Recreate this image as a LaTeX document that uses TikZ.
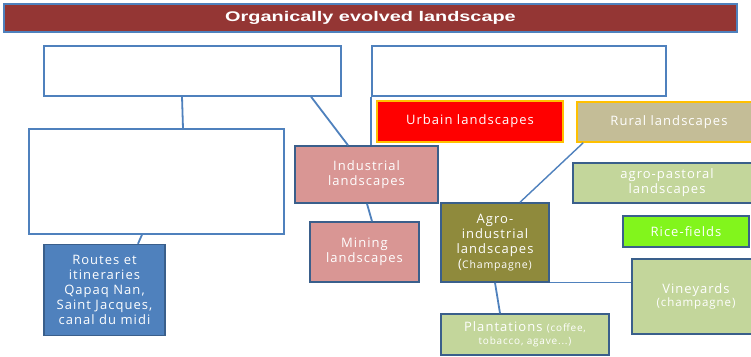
\documentclass[tikz,border=0pt]{standalone}
\usepackage{graphicx}
\usepackage{fontspec}
\setmainfont{Liberation Sans}
\newfontfamily\boxfont[LetterSpace=8]{Open Sans}
\usetikzlibrary{calc}
\definecolor{titlered}{HTML}{943634}
\definecolor{lineblue}{HTML}{4F81BD}
\definecolor{darkblue}{HTML}{3A5F8B}
\definecolor{rosefill}{HTML}{D99694}
\definecolor{greenfill}{HTML}{C3D69B}
\definecolor{tanfill}{HTML}{C4BD97}
\definecolor{olivefill}{HTML}{8F8A3C}
\definecolor{limefill}{HTML}{82F51C}
\definecolor{goldline}{HTML}{FFC000}
\tikzset{
  emptybox/.style={draw=lineblue, line width=1.3pt, fill=white, inner sep=0pt},
  colbox/.style={draw=darkblue, line width=1.5pt, inner sep=0pt, text=white, align=center,
    font=\boxfont\fontsize{13}{15}\selectfont},
  goldbox/.style={colbox, draw=goldline},
  conn/.style={draw=lineblue, line width=1.8pt}
}
\begin{document}
\begin{tikzpicture}[x=1pt,y=-1pt]
\clip (0,0) rectangle (751,356);
\fill[white] (0,0) rectangle (751,356);
% title
\node[draw=lineblue, line width=1.2pt, fill=titlered, minimum width=733pt, minimum height=28pt, inner sep=0pt,
  text=white, font=\bfseries\fontsize{14}{16}\selectfont] (title) at (370.5,18)
  {\scalebox{1.42}[1]{Organically evolved landscape}};
% empty boxes
\node[emptybox, minimum width=297pt, minimum height=50pt] (ul) at (192.5,71) {};
\node[emptybox, minimum width=294pt, minimum height=50pt] (ur) at (519,71) {};
\node[emptybox, minimum width=255pt, minimum height=105pt] (b2) at (156.5,181.5) {};
% coloured boxes
\node[colbox, fill=lineblue, minimum width=121pt, minimum height=91pt] (routes) at (104.5,290)
  {Routes et\\itineraries\\Qapaq Nan,\\Saint Jacques,\\canal du midi};
\node[colbox, fill=rosefill, minimum width=143pt, minimum height=57pt] (ind) at (366.5,174.5)
  {Industrial\\landscapes};
\node[colbox, fill=rosefill, minimum width=109pt, minimum height=60pt] (mine) at (364.5,252)
  {Mining\\landscapes};
\node[goldbox, fill=red, minimum width=186pt, minimum height=41pt] (urb) at (470,121.5)
  {Urbain landscapes};
\node[goldbox, fill=tanfill, minimum width=184pt, minimum height=40pt] (rur) at (669,122)
  {Rural landscapes};
\node[colbox, fill=greenfill, minimum width=188pt, minimum height=40pt] (past) at (667,183)
  {agro-pastoral\\landscapes};
\node[colbox, fill=limefill, minimum width=126pt, minimum height=31pt] (rice) at (686,231.5)
  {Rice-fields};
\node[colbox, fill=olivefill, minimum width=108pt, minimum height=79pt] (agro) at (495,242.5)
  {Agro-\\industrial\\landscapes\\(\fontsize{10.5}{15.5}\selectfont Champagne)};
\node[colbox, fill=greenfill, minimum width=128pt, minimum height=75pt,
  font=\boxfont\fontsize{13}{13.5}\selectfont] (vine) at (696,296.5)
  {Vineyards\\{\fontsize{11.5}{13.5}\selectfont(champagne)}};
\node[colbox, fill=greenfill, minimum width=168pt, minimum height=41pt,
  font=\boxfont\fontsize{13}{13.5}\selectfont] (plant) at (525,334.5)
  {Plantations {\fontsize{10}{13.5}\selectfont(coffee,}\\{\fontsize{10}{13.5}\selectfont tobacco, agave...)}};
% connectors
\draw[conn] ([xshift=-10.5pt]ul.south) -- ([xshift=26.5pt]b2.north);
\draw[conn] ([xshift=118.5pt]ul.south) -- ([xshift=-18.5pt]ind.north);
\draw[conn] ([xshift=-14.5pt]b2.south) -- ([xshift=33.5pt]routes.north);
\draw[conn] (ur.south west) -- (ur.south west |- ind.north);
\draw[conn] ([xshift=0.5pt]ind.south) -- ([xshift=7.5pt]mine.north);
\draw[conn, line width=1.4pt] ([xshift=7pt]rur.south west) -- ([xshift=25pt]agro.north);
\draw[conn, line width=1.4pt] (agro.south east) -- (agro.south east -| vine.west);
\draw[conn] (agro.south) -- ([xshift=-25pt]plant.north);
\end{tikzpicture}
\end{document}
